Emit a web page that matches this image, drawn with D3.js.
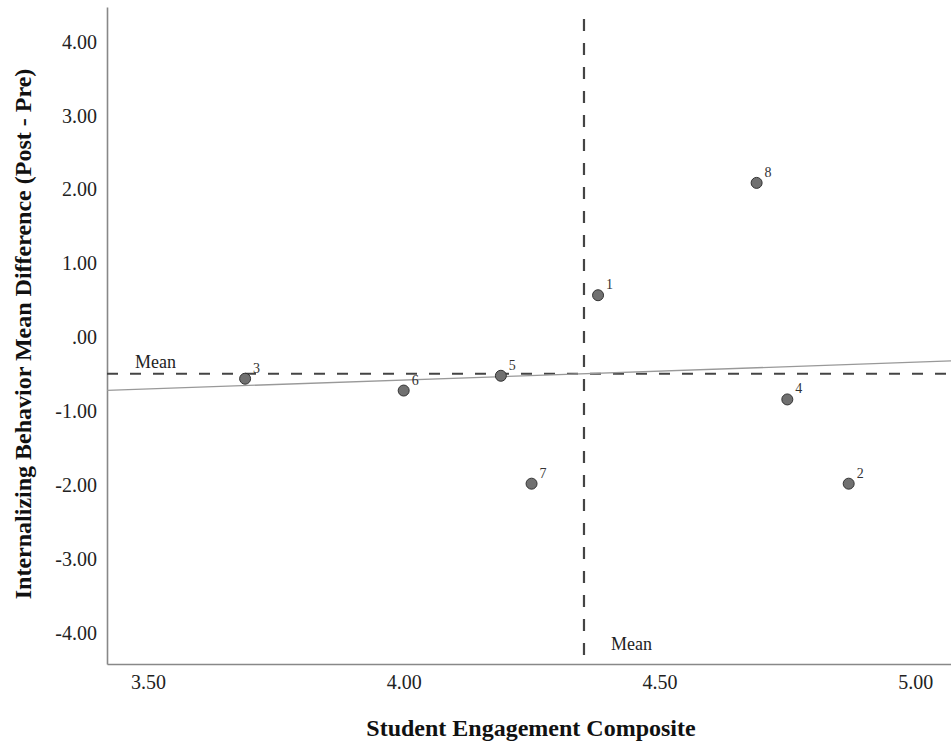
<!DOCTYPE html>
<html lang="en">
  <head>
    <meta charset="UTF-8" />
    <title>Engagement vs Internalizing Behavior</title>
    <script src="https://d3js.org/d3.v7.min.js"></script>
    <style>
      body {
        margin: 0;
        background: #fff;
        font-family: "Liberation Serif", "Times New Roman", serif;
      }
      .tick text {
        font-size: 20px;
        fill: #222;
      }
      .axis-title {
        font-size: 24px;
        font-weight: bold;
        fill: #111;
      }
      .pt-label {
        font-size: 14px;
        fill: #333;
      }
      .mean-label {
        font-size: 18px;
        fill: #222;
      }
    </style>
  </head>
  <body>
    <div id="chart"></div>
    <script>
      // data
      const caseIds = [1, 2, 3, 4, 5, 6, 7, 8];
      const engagement = [4.38, 4.87, 3.69, 4.75, 4.19, 4.0, 4.25, 4.69];
      const internalizing = [0.57, -1.98, -0.56, -0.84, -0.52, -0.72, -1.98, 2.09];
      const xTicks = [3.5, 4.0, 4.5, 5.0];
      const yTicks = [-4, -3, -2, -1, 0, 1, 2, 3, 4];

      const width = 951;
      const height = 748;
      const margin = { top: 7, right: 0, bottom: 84, left: 107 };

      const svg = d3
        .select("#chart")
        .append("svg")
        .attr("width", width)
        .attr("height", height);

      const x = d3
        .scaleLinear()
        .domain([3.42, 5.07])
        .range([margin.left, width - margin.right]);

      const y = d3
        .scaleLinear()
        .domain([-4.42, 4.47])
        .range([height - margin.bottom, margin.top]);

      // SPSS style labels: ".00" for zero, plain hyphen for minus
      const fmt = (d) => {
        const s = d3.format(".2f")(d).replace("\u2212", "-");
        return s === "0.00" ? ".00" : s;
      };

      const points = caseIds.map((id, i) => ({
        id: id,
        x: engagement[i],
        y: internalizing[i],
      }));

      // axes
      svg
        .append("g")
        .attr("transform", `translate(0,${height - margin.bottom})`)
        .call(d3.axisBottom(x).tickValues(xTicks).tickFormat(fmt).tickSize(0).tickPadding(11))
        .attr("font-family", null)
        .attr("font-size", null)
        .call((g) => g.select(".domain").attr("stroke", "#888").attr("stroke-width", 1.6));

      svg
        .append("g")
        .attr("transform", `translate(${margin.left},0)`)
        .call(d3.axisLeft(y).tickValues(yTicks).tickFormat(fmt).tickSize(0).tickPadding(10))
        .attr("font-family", null)
        .attr("font-size", null)
        .call((g) => g.select(".domain").attr("stroke", "#888").attr("stroke-width", 1.6));

      // mean reference lines
      const meanX = d3.mean(points, (d) => d.x);
      const meanY = d3.mean(points, (d) => d.y);

      svg
        .append("line")
        .attr("x1", margin.left)
        .attr("x2", width)
        .attr("y1", y(meanY))
        .attr("y2", y(meanY))
        .attr("stroke", "#444")
        .attr("stroke-width", 2)
        .attr("stroke-dasharray", "11,12");

      svg
        .append("line")
        .attr("x1", x(meanX))
        .attr("x2", x(meanX))
        .attr("y1", 19)
        .attr("y2", height - margin.bottom)
        .attr("stroke", "#444")
        .attr("stroke-width", 2.2)
        .attr("stroke-dasharray", "12,12");

      svg
        .append("text")
        .attr("class", "mean-label")
        .attr("x", margin.left + 28)
        .attr("y", y(meanY) - 6)
        .text("Mean");

      svg
        .append("text")
        .attr("class", "mean-label")
        .attr("x", x(meanX) + 27)
        .attr("y", height - margin.bottom - 14)
        .text("Mean");

      // least squares fit line across the plot
      const sxy = d3.sum(points, (d) => (d.x - meanX) * (d.y - meanY));
      const sxx = d3.sum(points, (d) => (d.x - meanX) ** 2);
      const slope = sxy / sxx;
      const intercept = meanY - slope * meanX;
      const [x0, x1] = x.domain();

      svg
        .append("line")
        .attr("x1", x(x0))
        .attr("x2", x(x1))
        .attr("y1", y(intercept + slope * x0))
        .attr("y2", y(intercept + slope * x1))
        .attr("stroke", "#999")
        .attr("stroke-width", 1.3);

      // points + case labels
      svg
        .append("g")
        .selectAll("circle")
        .data(points)
        .join("circle")
        .attr("cx", (d) => x(d.x))
        .attr("cy", (d) => y(d.y))
        .attr("r", 5.5)
        .attr("fill", "#707070")
        .attr("stroke", "#333")
        .attr("stroke-width", 1);

      svg
        .append("g")
        .selectAll("text")
        .data(points)
        .join("text")
        .attr("class", "pt-label")
        .attr("x", (d) => x(d.x) + 8)
        .attr("y", (d) => y(d.y) - 6)
        .text((d) => d.id);

      // axis titles
      svg
        .append("text")
        .attr("class", "axis-title")
        .attr("text-anchor", "middle")
        .attr("x", 531)
        .attr("y", 736)
        .text("Student Engagement Composite");

      svg
        .append("text")
        .attr("class", "axis-title")
        .attr("text-anchor", "middle")
        .attr("transform", `translate(31,334) rotate(-90)`)
        .text("Internalizing Behavior Mean Difference (Post - Pre)");
    </script>
  </body>
</html>
